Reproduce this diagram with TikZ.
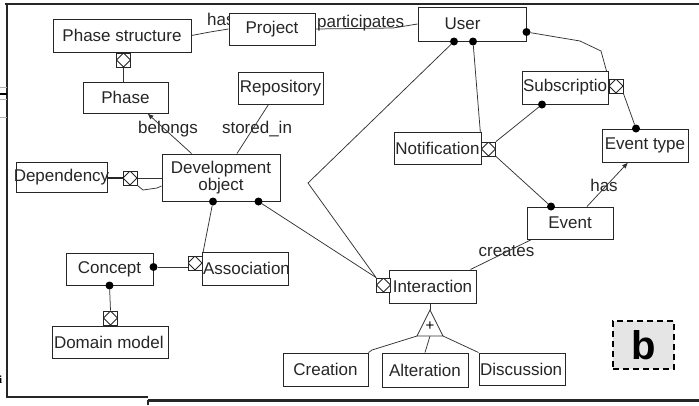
\documentclass[tikz,border=0pt]{standalone}
\usepackage{fontspec}
\setmainfont{Liberation Sans}
\newfontfamily\edgeserif{Liberation Serif}
\usetikzlibrary{arrows.meta,shadows,calc}
\pgfdeclarelayer{bg}
\pgfsetlayers{bg,main}
\begin{document}
\begin{tikzpicture}[x=1pt,y=-1pt,
  ent/.style={draw=black!85, line width=1pt, fill=white, inner sep=0pt,
    minimum width=86pt, minimum height=33pt,
    font=\fontsize{17}{15}\selectfont, text=black!85, align=center,
    drop shadow={shadow xshift=0.9pt, shadow yshift=-0.9pt, fill=black!80, opacity=1}},
  agg/.style={draw=black!85, fill=white, line width=0.8pt, minimum size=14pt, inner sep=0pt,
    path picture={\draw[line width=0.8pt, black!85]
      (path picture bounding box.north) -- (path picture bounding box.east) --
      (path picture bounding box.south) -- (path picture bounding box.west) -- cycle;}},
  dot/.style={circle, fill=black, inner sep=0pt, minimum size=8pt},
  conn/.style={draw=black!80, line width=0.75pt},
  tip/.style={-{Latex[length=6pt,width=5pt]}},
  lbl/.style={font=\fontsize{17}{15}\selectfont, text=black!85, inner sep=0pt},
  frame/.style={draw=black!85, line width=1.5pt}
]
\useasboundingbox (0,0) rectangle (699,405);

% page frame and cut edges
\draw[frame] (5,4) -- (699,4);
\draw[frame] (7,4) -- (7,397) -- (148,397);
\draw[draw=black!85, line width=3pt] (148,400) -- (699,400);
\draw[draw=black!85, line width=1.2pt] (148,400) -- (148,405);
\draw[black, line width=1.5pt] (0,94) -- (7,94);
\draw[black!30, line width=0.8pt] (0,87) -- (7,87) (0,99) -- (7,99) (0,117) -- (7,117);
\node[inner sep=0pt, anchor=west, font=\edgeserif\bfseries\fontsize{11}{11}\selectfont] (cut) at (-1,380) {i};

% entities
\node[ent, minimum width=138pt] (phs) at (122,35.5) {Phase structure};
\node[ent, minimum height=32pt] (proj) at (272,29) {Project};
\node[ent, minimum width=108pt, minimum height=34pt] (user) at (472,24) {\raisebox{-2pt}{User}\hspace*{19pt}};
\node[ent, minimum width=85pt, minimum height=31pt] (phase) at (125.5,97.5) {Phase};
\node[ent, minimum width=85pt, minimum height=32pt] (repo) at (280.5,88) {Repository};
\node[ent] (subs) at (565,87.5) {\makebox[84pt][l]{Subscription}};
\node[ent, minimum width=87pt, minimum height=32pt] (notif) at (437.5,148) {\makebox[84pt][c]{Notification}};
\node[ent] (evtype) at (645,145.5) {Event type};
\node[ent, minimum width=91pt, minimum height=30pt] (dep) at (61.5,177) {\makebox[88pt][c]{Dependency}};
\node[ent, minimum width=118pt, minimum height=47pt] (devobj) at (221,177.5) {Development\\object};
\node[ent, minimum height=32pt] (event) at (570,223) {Event};
\node[ent, minimum width=87pt, minimum height=32pt] (concept) at (109.5,269) {Concept};
\node[ent] (assoc) at (245,268.5) {\makebox[84pt][l]{Association}};
\node[ent, minimum width=87pt] (inter) at (432.5,286.5) {Interaction};
\node[ent, minimum width=116pt, minimum height=32pt] (dommod) at (110,342) {\makebox[112pt][l]{Domain model}};
\node[ent, minimum width=85pt] (creation) at (325.5,369.5) {Creation};
\node[ent, minimum height=34pt] (alter) at (425,370) {Alteration};
\node[ent, minimum height=32pt] (disc) at (522,369) {\makebox[84pt][l]{Discussion}};

% aggregation markers
\node[agg] (m1) at (123.5,60) {};
\node[agg] (m2) at (130,178) {};
\node[agg] (m3) at (195,263) {};
\node[agg] (m4) at (110.5,318) {};
\node[agg] (m5) at (488.5,149) {};
\node[agg] (m6) at (616,86) {};
\node[agg] (m7) at (383.5,285) {};

% relationship ends
\node[dot] (u1) at ($(user.south)+(-18,0)$) {};
\node[dot] (u2) at ($(user.south)+(1,0)$) {};
\node[dot] (u3) at ($(user.east)+(0,8)$) {};
\node[dot] (s1) at ($(subs.south)+(-23,0)$) {};
\node[dot] (et1) at ($(evtype.north)+(-9,0)$) {};
\node[dot] (e1) at ($(event.north)+(-19,0)$) {};
\node[dot] (d1) at ($(devobj.south)+(-8,0)$) {};
\node[dot] (d2) at ($(devobj.south east)+(-22,0)$) {};
\node[dot] (c1) at ($(concept.east)+(0,-2)$) {};
\node[dot] (c2) at (concept.south) {};

% generalisation triangle
\coordinate (ta) at (430,310);
\coordinate (tl) at (417,336);
\coordinate (tr) at (443,336);
\coordinate (tm) at (430,336);
\draw[conn, fill=white] (ta) -- (tr) -- (tl) -- cycle;
\node[inner sep=0pt, font=\fontsize{15}{15}\selectfont] (plus) at (430,326) {+};

% "b" tag
\node[draw=black, dash pattern=on 6pt off 4pt, line width=1.2pt, fill=black!10,
  minimum width=61pt, minimum height=48pt, inner sep=0pt,
  font=\fontsize{40}{40}\selectfont\bfseries] (tag) at (643.5,345) {b};

\begin{pgfonlayer}{bg}
  % labels
  \node[lbl, anchor=base west] (lhas) at (207,25) {has};
  \node[lbl, anchor=base west] (lpart) at (317,27) {participates};
  \node[lbl] (lbel) at (168,129) {belongs};
  \node[lbl] (lstor) at (257,129) {stored\_in};
  \node[lbl] (lhas2) at (604,185) {has};
  \node[lbl] (lcre) at (506.5,251) {creates};

  % connectors
  \draw[conn] (phs.east) -- (210,32) -- (proj.west);
  \draw[conn] (proj.east) -- (393,28) -- (user.west);
  \draw[conn] (m1.south) -- (phase.north -| m1.south);
  \draw[conn, tip] ($(devobj.north west)+(30,0)$) -- ($(phase.south)+(22,0)$);
  \draw[conn] ($(repo.south)+(-12,0)$) -- ($(devobj.north)+(16,0)$);
  \draw[draw=black!85, line width=1.8pt] (dep.east |- m2.west) -- (m2.west);
  \draw[conn] (m2.east) -- (m2.east -| devobj.west);
  \draw[conn] (m2.south east) -- (143,190) -- (157,188) -- ($(devobj.west)+(0,8.5)$);
  \draw[conn] (d1) -- (m3.north east);
  \draw[conn] (c1) -- (c1 -| m3.west);
  \draw[conn] (c2) -- (m4.north);
  \draw[conn] (d2) -- (m7.north west);
  \draw[conn] (u1) -- (308,183) -- (m7.north west);
  \draw[conn] (u2) -- (m5.north west);
  \draw[conn] (s1) -- (m5.north east);
  \draw[conn] (m5.south east) -- (e1);
  \draw[conn] (u3) -- (580,41) -- (601,51) -- (m6.north west);
  \draw[conn] (m6.south east) -- (et1);
  \draw[conn, tip] ($(event.north)+(17,0)$) -- ($(evtype.south)+(-17,0)$);
  \draw[conn] ($(event.south west)+(5,0)$) -- ($(inter.north east)+(-6,0)$);
  \draw[conn] (inter.south -| ta) -- (ta);
  \draw[conn] (tl) -- (372,350) -- (creation.north east);
  \draw[conn] (tm) -- (alter.north);
  \draw[conn] (tr) -- (disc.north west);
\end{pgfonlayer}
\end{tikzpicture}
\end{document}
